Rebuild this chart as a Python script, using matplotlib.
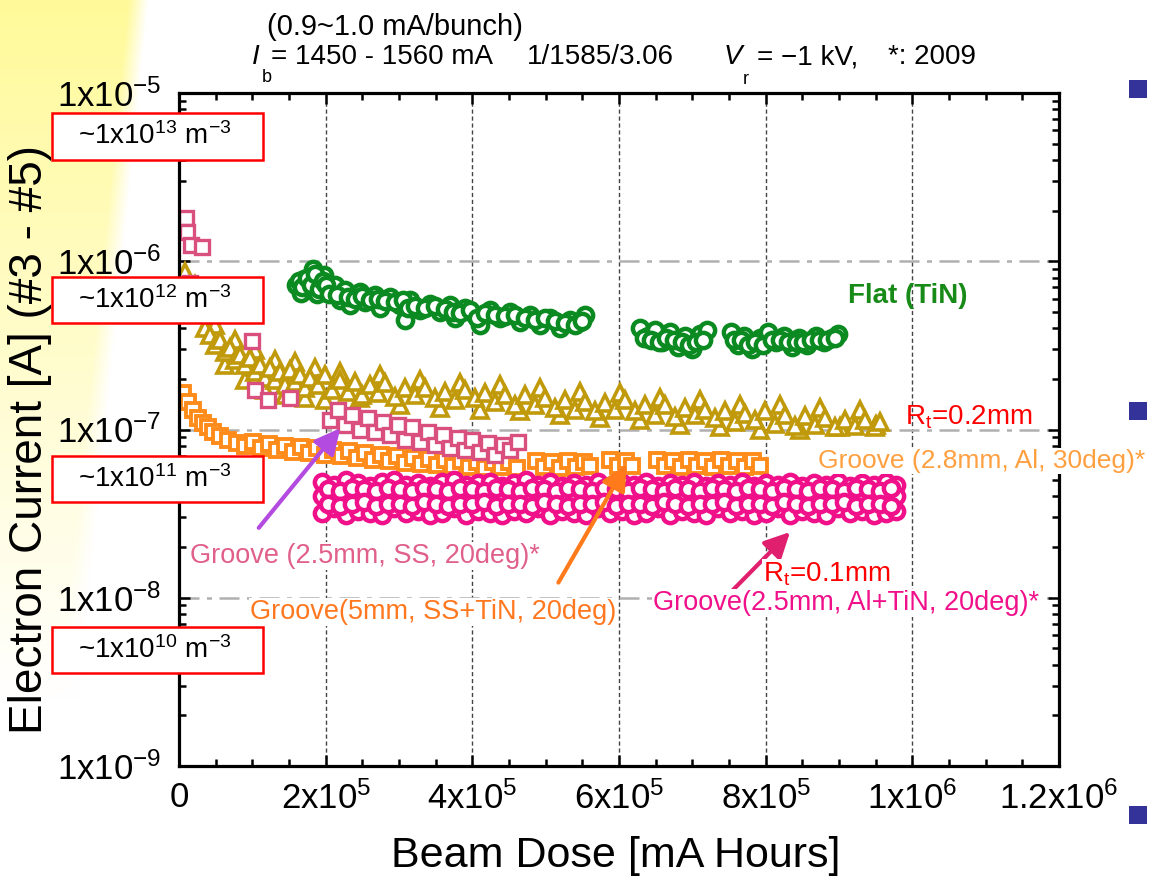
import numpy as np
import matplotlib
matplotlib.use("Agg")
import matplotlib.pyplot as plt
from matplotlib.patches import Rectangle, FancyArrowPatch
from matplotlib.ticker import MultipleLocator, LogLocator, NullFormatter

plt.rcParams['font.family'] = ['Liberation Sans', 'DejaVu Sans']
plt.rcParams['mathtext.fontset'] = 'custom'
plt.rcParams['mathtext.rm'] = 'Liberation Sans'
plt.rcParams['mathtext.it'] = 'Liberation Sans:italic'
plt.rcParams['mathtext.bf'] = 'Liberation Sans:bold'

# ---- data (x in 1e3 mA Hours) ----
# Flat (TiN), y in 1e-7 A
flat_x = [160, 166, 171, 176, 183, 188, 193, 198, 203,
          213, 219, 226, 233, 247, 254, 267, 274, 288, 301, 308, 315, 329, 342, 356, 370,
          376, 390, 404, 410, 424, 438, 451, 465, 479, 492, 506, 520, 533, 547, 554,
          629, 639, 649, 659, 670, 681, 690, 700, 711, 720,
          753, 762, 771, 781, 792, 803, 814, 825, 836, 846, 857, 868, 879, 890, 898]
flat_y = [7.2, 6.5, 7.8, 6.9, 9.0, 6.4, 7.4, 8.3, 6.8,
          7.2, 5.9, 6.75, 5.5, 6.55, 5.7, 6.3, 5.25, 6.1, 5.5, 4.5, 5.9, 5.1, 5.6, 5.0, 5.5,
          4.6, 5.25, 4.8, 4.2, 5.1, 4.6, 5.0, 4.35, 4.8, 4.2, 4.6, 4.0, 4.5, 4.35, 4.8,
          4.0, 3.6, 3.9, 3.3, 3.8, 3.1, 3.6, 3.0, 3.7, 3.9,
          3.8, 3.2, 3.6, 3.0, 3.5, 3.8, 3.3, 3.6, 3.1, 3.5, 3.2, 3.6, 3.3, 3.5, 3.7]
# more Flat (TiN) runs filling the same bands
flat2_x = [163, 168, 174, 180, 186, 191, 196, 201, 205,
           216, 230, 240, 250, 261, 271, 281, 295, 305, 312,
           322, 336, 349, 363, 373, 383, 397, 407, 417, 431,
           445, 458, 472, 486, 499, 513, 527, 540, 550,
           634, 644, 654, 664, 675, 686, 695, 705, 715,
           757, 767, 776, 786, 797, 808, 819, 830, 841, 851, 862, 873, 884, 894]
flat2_y = [7.6, 7.0, 8.0, 7.2, 8.4, 6.8, 7.6, 7.2, 6.4,
           6.3, 6.1, 6.0, 6.2, 5.9, 6.0, 5.8, 5.7, 5.9, 5.3,
           5.4, 5.3, 5.4, 5.2, 5.0, 4.9, 5.1, 4.6, 4.9, 4.8,
           4.7, 4.8, 4.6, 4.5, 4.6, 4.4, 4.3, 4.2, 4.4,
           3.5, 3.4, 3.3, 3.5, 3.4, 3.3, 3.2, 3.3, 3.4,
           3.4, 3.4, 3.2, 3.3, 3.2, 3.4, 3.4, 3.3, 3.3, 3.3, 3.4, 3.4, 3.4, 3.5]

# Groove (2.8mm, Al, 30deg), y in 1e-7 A
al_x = [8, 22, 29, 35, 42, 49, 56, 63, 70, 76,
        83, 90, 97, 104, 110, 117, 124, 131, 138, 145,
        151, 158, 165, 172, 179, 190, 199, 209, 220, 230,
        240, 250, 260, 271, 281, 295, 308, 322, 335, 349,
        363, 376, 390, 404, 417, 431, 445, 458, 472, 485,
        499, 513, 526, 540, 554, 567, 581, 595, 608, 622,
        635, 649, 663, 676, 690, 704, 717, 731, 745, 758,
        772, 785, 799, 813, 826, 840, 854, 867, 881, 895,
        908, 922, 935, 949, 956]
al_y = [8.6, 7.2, 5.9, 4.0, 3.65, 3.2, 3.4, 2.9, 3.05, 2.6,
        2.77, 2.42, 2.66, 2.2, 2.42, 2.02, 2.32, 1.97, 2.2, 1.84,
        2.26, 1.92, 2.11, 1.77, 2.02, 1.84, 2.11, 1.72, 1.97, 1.67,
        1.92, 1.60, 1.84, 1.65, 1.89, 1.56, 1.77, 1.60, 1.77, 1.54,
        1.67, 1.50, 1.72, 1.54, 1.65, 1.46, 1.60, 1.40, 1.60, 1.40,
        1.54, 1.34, 1.50, 1.31, 1.46, 1.28, 1.43, 1.31, 1.50, 1.28,
        1.40, 1.22, 1.40, 1.19, 1.34, 1.22, 1.31, 1.17, 1.28, 1.11,
        1.24, 1.14, 1.28, 1.08, 1.22, 1.05, 1.21, 1.06, 1.17, 1.03,
        1.14, 1.05, 1.14, 1.03, 1.11]
al2_x = [49, 63, 76, 90, 104, 117, 131, 145, 158, 172,
         185, 199, 220, 247, 274, 301, 329, 356, 383, 410,
         438, 465, 492, 520, 547, 574, 601, 629, 656, 683,
         710, 738, 765, 792, 820, 847, 874, 901, 929, 950]
al2_y = [4.18, 2.42, 3.4, 1.97, 2.97, 1.72, 2.59, 1.60, 2.53, 1.54,
         2.32, 1.50, 2.2, 1.54, 2.11, 1.40, 1.97, 1.34, 1.89, 1.31,
         1.84, 1.28, 1.77, 1.22, 1.67, 1.17, 1.65, 1.14, 1.54, 1.06,
         1.50, 1.03, 1.40, 0.99, 1.40, 0.99, 1.34, 1.03, 1.31, 1.06]

# Groove (5mm, SS+TiN, 20deg), y in 1e-8 A
tin_x = [5, 12, 19, 26, 33, 40, 46, 56, 67, 79,
         90, 101, 112, 123, 134, 145, 155, 166, 177, 188,
         199, 210, 221, 232, 243, 254, 265, 275, 286, 297,
         308, 319, 330, 341, 352, 363, 374, 385, 395, 406,
         417, 428, 439, 450, 461,
         487, 498, 509, 520, 530, 541, 552, 560,
         588, 599, 610, 618,
         652, 663, 674, 685, 695, 706, 717, 728, 739, 750, 761, 772, 783, 792]
tin_y = [16.5, 14.6, 13.1, 11.7, 10.9, 10.3, 9.66, 9.14, 8.66, 8.31,
         7.98, 8.43, 7.76, 8.2, 7.55, 7.98, 7.35, 7.86, 7.24, 7.76,
         7.05, 7.55, 6.95, 7.45, 6.76, 7.24, 6.59, 7.05, 6.5, 6.95,
         6.32, 6.76, 6.23, 6.68, 6.15, 6.59, 6.07, 6.5, 5.98, 6.41,
         5.9, 6.41, 5.98, 6.41, 5.9,
         6.5, 5.98, 6.41, 5.9, 6.5, 5.98, 6.41, 6.07,
         6.59, 6.07, 6.5, 6.07,
         6.59, 6.07, 6.5, 5.98, 6.59, 6.07, 6.5, 5.98, 6.59, 6.07, 6.5, 5.98, 6.5, 6.07]

# Groove (2.5mm, SS, 20deg)*, y in 1e-7 A
ss_x = [10, 11, 16, 31, 15, 100, 104, 121, 151,
        206, 217, 226, 236, 247, 258, 267, 278, 288, 299, 308, 318, 329,
        340, 349, 360, 370, 380, 390, 400, 410, 421, 431, 442, 451, 462]
ss_y = [18.1, 14.9, 12.5, 12.2, 7.4, 3.36, 1.72, 1.50, 1.54,
        1.14, 1.31, 1.06, 1.22, 0.99, 1.17, 0.97, 1.11, 0.93, 1.06, 0.87, 1.03, 0.84,
        0.97, 0.81, 0.93, 0.78, 0.89, 0.755, 0.87, 0.735, 0.83, 0.705, 0.81, 0.755, 0.84]

# Groove (2.5mm, Al+TiN, 20deg)*, y in 1e-8 A (rows of the dense band)
mag_x = [195, 211, 228, 244, 260, 277, 293, 310, 326, 342, 359, 375, 391, 408, 424, 440,
         457, 473, 490, 506, 522, 539, 555, 571, 588, 604, 620, 637, 653, 669, 686, 702,
         719, 735, 751, 768, 784, 800, 817, 833, 850, 866, 882, 899, 915, 931, 948, 964, 978]
mag_hi = [4.9, 4.7, 5.0, 4.8, 4.6, 4.9, 5.0, 4.7, 4.8, 4.6, 4.9, 5.0, 4.7, 4.8, 4.9, 4.6,
          4.8, 5.0, 4.7, 4.9, 4.6, 4.8, 4.7, 4.9, 4.6, 4.8, 4.7, 4.9, 4.6, 4.8, 4.7, 4.9,
          4.6, 4.8, 4.7, 4.9, 4.6, 4.8, 4.7, 4.9, 4.6, 4.8, 4.7, 4.9, 4.6, 4.8, 4.7, 4.9, 4.7]
mag_mid = [4.0, 3.8, 4.1, 3.9, 4.0, 3.8, 4.1, 3.9, 4.0, 3.8, 4.1, 3.9, 4.0, 3.8, 4.1, 3.9,
           4.0, 3.8, 4.1, 3.9, 4.0, 3.8, 4.1, 3.9, 4.0, 3.8, 4.1, 3.9, 4.0, 3.8, 4.1, 3.9,
           4.0, 3.8, 4.1, 3.9, 4.0, 3.8, 4.1, 3.9, 4.0, 3.8, 4.1, 3.9, 4.0, 3.8, 4.1, 3.9, 4.0]
mag_lo = [3.2, 3.4, 3.1, 3.3, 3.2, 3.1, 3.4, 3.2, 3.3, 3.1, 3.2, 3.4, 3.1, 3.3, 3.2, 3.1,
          3.3, 3.2, 3.4, 3.1, 3.3, 3.2, 3.1, 3.4, 3.2, 3.3, 3.1, 3.2, 3.4, 3.1, 3.3, 3.2,
          3.1, 3.4, 3.2, 3.3, 3.1, 3.2, 3.4, 3.1, 3.3, 3.2, 3.1, 3.4, 3.2, 3.3, 3.1, 3.2, 3.3]
mag_x2 = [203, 219, 236, 252, 268, 285, 301, 318, 334, 350, 367, 383, 399, 416, 432, 448,
          465, 481, 498, 514, 530, 547, 563, 579, 596, 612, 628, 645, 661, 677, 694, 710,
          727, 743, 759, 776, 792, 808, 825, 841, 858, 874, 890, 907, 923, 939, 956, 971]
mag_r4 = [4.4, 4.3, 4.5, 4.4, 4.3, 4.5, 4.4, 4.3, 4.5, 4.4, 4.3, 4.5, 4.4, 4.3, 4.5, 4.4,
          4.3, 4.5, 4.4, 4.3, 4.5, 4.4, 4.3, 4.5, 4.4, 4.3, 4.5, 4.4, 4.3, 4.5, 4.4, 4.3,
          4.5, 4.4, 4.3, 4.5, 4.4, 4.3, 4.5, 4.4, 4.3, 4.5, 4.4, 4.3, 4.5, 4.4, 4.3, 4.5]
mag_r5 = [3.6, 3.5, 3.6, 3.7, 3.5, 3.6, 3.6, 3.5, 3.7, 3.6, 3.5, 3.6, 3.6, 3.7, 3.5, 3.6,
          3.6, 3.5, 3.7, 3.6, 3.5, 3.6, 3.6, 3.7, 3.5, 3.6, 3.6, 3.5, 3.7, 3.6, 3.5, 3.6,
          3.6, 3.7, 3.5, 3.6, 3.6, 3.5, 3.7, 3.6, 3.5, 3.6, 3.6, 3.7, 3.5, 3.6, 3.6, 3.5]

x_ticks = [0, 2e5, 4e5, 6e5, 8e5, 1e6, 1.2e6]
x_labels = ['0', r'$\mathrm{2x10^{5}}$', r'$\mathrm{4x10^{5}}$', r'$\mathrm{6x10^{5}}$',
            r'$\mathrm{8x10^{5}}$', r'$\mathrm{1x10^{6}}$', r'$\mathrm{1.2x10^{6}}$']
y_ticks = [1e-9, 1e-8, 1e-7, 1e-6, 1e-5]
y_labels = [r'$\mathrm{1x10^{-9}}$', r'$\mathrm{1x10^{-8}}$', r'$\mathrm{1x10^{-7}}$',
            r'$\mathrm{1x10^{-6}}$', r'$\mathrm{1x10^{-5}}$']
density_labels = [r'~1x10$^{13}$ m$^{-3}$', r'~1x10$^{12}$ m$^{-3}$',
                  r'~1x10$^{11}$ m$^{-3}$', r'~1x10$^{10}$ m$^{-3}$']

GREEN = '#0a8a20'
OLIVE = '#c09a0a'
ORANGE = '#ff8c1a'
PINK = '#d9507f'
MAGENTA = '#f0108a'

W, H = 1153, 885


def fx(px):
    return px / W


def fy(py):
    return 1 - py / H


fig = plt.figure(figsize=(W / 100, H / 100), dpi=100)

# pale yellow slide background at the top left
bg = fig.add_axes([0, 0, 1, 1], zorder=-10)
bg.axis('off')
yy, xx = np.mgrid[0:H, 0:W]
edge = np.clip((138 - 0.1 * yy - xx) / 20 + 0.5, 0, 1)
fade = np.clip(1 - yy / 700, 0, 1)
wgt = (edge * fade)[..., None]
img = 1 - wgt * (1 - np.array([1.0, 0.98, 0.6]))
bg.imshow(img, extent=[0, W, H, 0], aspect='auto')
bg.set_xlim(0, W)
bg.set_ylim(H, 0)

ax = fig.add_axes([fx(179), fy(766), (1059 - 179) / W, (766 - 93) / H])
ax.set_yscale('log')

circ = dict(ls='none', marker='o', ms=11, mew=3.2, mfc='white')
tri = dict(ls='none', marker='^', ms=12, mew=2.6, mfc='white')
ax.plot(np.array(flat_x) * 1e3, np.array(flat_y) * 1e-7, mec=GREEN, **circ)
ax.plot(np.array(flat2_x) * 1e3, np.array(flat2_y) * 1e-7, mec=GREEN, **circ)
ax.plot(np.array(al2_x) * 1e3, np.array(al2_y) * 1e-7, mec=OLIVE, **tri)
ax.plot(np.array(al_x) * 1e3, np.array(al_y) * 1e-7, mec=OLIVE, **tri)
ax.plot(np.array(tin_x) * 1e3, np.array(tin_y) * 1e-8, ls='none', marker='s',
        ms=10, mew=2.8, mec=ORANGE, mfc='white')
ax.plot(np.array(ss_x) * 1e3, np.array(ss_y) * 1e-7, ls='none', marker='s',
        ms=10, mew=2.4, mec=PINK, mfc='white')
for row in (mag_hi, mag_lo, mag_mid):
    ax.plot(np.array(mag_x) * 1e3, np.array(row) * 1e-8, mec=MAGENTA, **circ)
for row in (mag_r4, mag_r5):
    ax.plot(np.array(mag_x2) * 1e3, np.array(row) * 1e-8, mec=MAGENTA, **circ)

ax.set_xlim(0, 1.2e6)
ax.set_ylim(1e-9, 1e-5)
ax.set_xticks(x_ticks)
ax.set_xticklabels(x_labels)
ax.set_yticks(y_ticks)
ax.set_yticklabels(y_labels)
ax.xaxis.set_minor_locator(MultipleLocator(5e4))
ax.yaxis.set_minor_locator(LogLocator(base=10, subs=np.arange(2, 10) * 1.0, numticks=20))
ax.yaxis.set_minor_formatter(NullFormatter())
ax.tick_params(which='both', direction='in', top=True, right=True, width=1.8)
ax.tick_params(which='major', length=8, labelsize=25)
ax.tick_params(which='minor', length=5)
ax.tick_params(axis='x', pad=11)
ax.tick_params(axis='y', pad=13)
for sp in ax.spines.values():
    sp.set_linewidth(2.3)
ax.grid(True, axis='x', which='major', color='#444444', ls=(0, (3, 2)), lw=1.0)
ax.grid(True, axis='y', which='major', color='#b0b0b0', ls=(0, (8, 3, 2, 3)), lw=1.8)

# axis titles
fig.text(fx(30), fy(440), 'Electron Current [A] (#3 - #5)', rotation=90,
         fontsize=33, ha='center', va='center')
fig.text(fx(616), fy(856), 'Beam Dose [mA Hours]', fontsize=31, ha='center', va='center')

# header lines
fig.text(fx(395), fy(27), '(0.9~1.0 mA/bunch)', fontsize=21, ha='center', va='center')
fig.text(fx(252), fy(57), 'I', fontsize=20, style='italic', va='center')
fig.text(fx(262), fy(78), 'b', fontsize=13, va='center')
fig.text(fx(271), fy(57), '= 1450 - 1560 mA', fontsize=20, va='center')
fig.text(fx(527), fy(57), '1/1585/3.06', fontsize=20, va='center')
fig.text(fx(724), fy(57), 'V', fontsize=20, style='italic', va='center')
fig.text(fx(743), fy(80), 'r', fontsize=13, va='center')
fig.text(fx(757), fy(57), '= \u22121 kV,', fontsize=20, va='center')
fig.text(fx(888), fy(57), '*: 2009', fontsize=20, va='center')

# density boxes
for (top, bot), lab in zip([(113, 160), (277, 323), (456, 502), (627, 673)], density_labels):
    fig.add_artist(Rectangle((fx(52), fy(bot)), (263 - 52) / W, (bot - top) / H,
                             transform=fig.transFigure, fc='white', ec='red', lw=1.8))
    fig.text(fx(155), fy((top + bot) / 2), lab, fontsize=20, ha='center', va='center')

# series annotations
box = dict(fc='white', ec='none', pad=1)
fig.text(fx(848), fy(296), 'Flat (TiN)', fontsize=20, fontweight='bold', color='#178a17', va='center')
fig.text(fx(905), fy(417), r'R$_\mathrm{t}$=0.2mm', fontsize=20, color='red', va='center')
fig.text(fx(818), fy(461), 'Groove (2.8mm, Al, 30deg)*', fontsize=19, color='#ffa040',
         va='center', bbox=box)
fig.text(fx(190), fy(556), 'Groove (2.5mm, SS, 20deg)*', fontsize=19.5, color='#e0608a',
         va='center', bbox=box)
fig.text(fx(763), fy(574), r'R$_\mathrm{t}$=0.1mm', fontsize=20, color='red', va='center', bbox=box)
fig.text(fx(250), fy(612), 'Groove(5mm, SS+TiN, 20deg)', fontsize=19.5, color='#ff7820',
         va='center', bbox=box)
fig.text(fx(653), fy(603), 'Groove(2.5mm, Al+TiN, 20deg)*', fontsize=19.5, color=MAGENTA,
         va='center', bbox=box)

# arrows
for (x0, y0, x1, y1), col in [((257, 530, 342, 426), '#b44be1'),
                              ((557, 585, 628, 462), '#ff7a1a'),
                              ((730, 593, 792, 530), '#e0206e')]:
    fig.add_artist(FancyArrowPatch((fx(x0), fy(y0)), (fx(x1), fy(y1)), transform=fig.transFigure,
                                   arrowstyle='-|>,head_length=0.7,head_width=0.35',
                                   mutation_scale=22, lw=3, color=col))

# slide bullets on the right
for top in (80, 402, 806):
    fig.add_artist(Rectangle((fx(1129), fy(top + 18)), 18 / W, 18 / H,
                             transform=fig.transFigure, fc='#333399', ec='none'))

fig.savefig('out.png', dpi=100)
